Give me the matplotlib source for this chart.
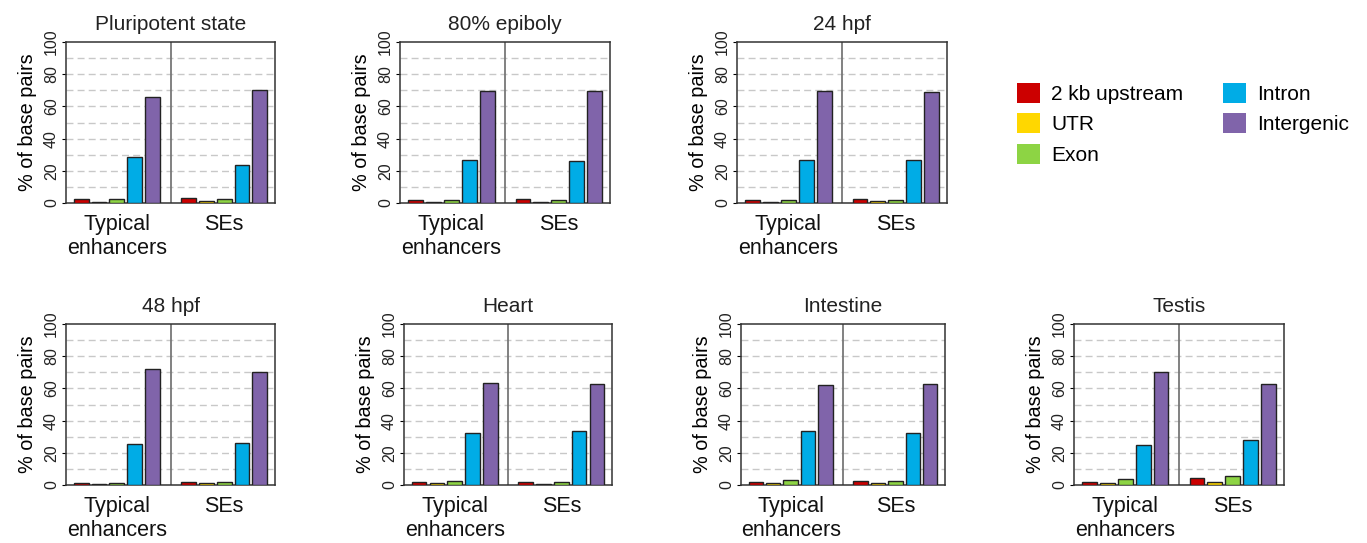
import numpy as np
import matplotlib
matplotlib.use("Agg")
import matplotlib.pyplot as plt
from matplotlib.patches import Patch

plt.rcParams['font.family'] = ['Liberation Sans', 'DejaVu Sans']

regions = ["2 kb upstream", "UTR", "Exon", "Intron", "Intergenic"]
colors = ["#CC0000", "#FFD700", "#8DD444", "#00ACE6", "#8064AA"]
groups = ["Typical\nenhancers", "SEs"]

titles = ["Pluripotent state", "80% epiboly", "24 hpf",
          "48 hpf", "Heart", "Intestine", "Testis"]

# % of base pairs per region, [typical enhancers, SEs]
pluripotent = [[2.7, 0.8, 2.5, 28.7, 66.1], [3.3, 1.0, 2.7, 23.7, 70.3]]
epiboly80 = [[2.1, 0.8, 2.1, 26.4, 69.4], [2.5, 0.8, 2.1, 26.0, 69.4]]
hpf24 = [[2.1, 0.8, 1.7, 26.8, 69.6], [2.5, 1.0, 2.1, 26.8, 68.8]]
hpf48 = [[1.2, 0.6, 1.2, 25.2, 72.3], [2.1, 1.2, 1.9, 26.0, 70.0]]
heart = [[1.9, 1.0, 2.5, 32.2, 63.6], [1.9, 0.8, 1.9, 33.7, 62.6]]
intestine = [[1.9, 1.2, 2.9, 33.3, 62.0], [2.5, 1.2, 2.5, 32.2, 62.6]]
testis = [[2.1, 1.4, 3.7, 24.6, 70.0], [4.5, 2.1, 5.6, 27.7, 63.0]]

data = [pluripotent, epiboly80, hpf24, hpf48, heart, intestine, testis]

W, H = 1367, 543
fig = plt.figure(figsize=(W / 100, H / 100), dpi=100)

# axes boxes in pixels: left, top, right, bottom
boxes = [(66, 42, 275, 203), (400, 42, 610, 203), (737, 42, 947, 203),
         (66, 324, 275, 485), (404, 324, 612, 485), (741, 324, 945, 485),
         (1074, 324, 1284, 485)]

for box, title, vals in zip(boxes, titles, data):
    l, t, r, b = box
    ax = fig.add_axes([l / W, 1 - b / H, (r - l) / W, (b - t) / H])
    for g in range(2):
        xs = np.arange(5) + 6 * g
        ax.bar(xs, vals[g], width=0.83, color=colors,
               edgecolor="#222222", linewidth=1, zorder=3)
    ax.axvline(5, color="#777777", linewidth=1.3, zorder=2)
    for yv in range(10, 100, 10):
        ax.axhline(yv, color="#C8C8C8", linewidth=1, dashes=(5, 3), zorder=1)
    ax.set_xlim(-0.85, 10.85)
    ax.set_ylim(0, 100)
    ax.set_yticks(range(0, 101, 20))
    ax.set_yticklabels([str(v) for v in range(0, 101, 20)], rotation=90,
                       va="center", fontsize=11.5, color="#222222")
    ax.tick_params(axis="y", length=3, pad=2)
    ax.set_xticks([2, 8])
    ax.set_xticklabels(groups, fontsize=15.5, color="#111111", linespacing=1.2)
    ax.tick_params(axis="x", length=0, pad=8)
    ax.set_ylabel("% of base pairs", fontsize=14.3, labelpad=5)
    ax.set_title(title, fontsize=15, color="#222222", pad=9)
    for s in ax.spines.values():
        s.set_color("#333333")
        s.set_linewidth(1.1)

handles = [Patch(facecolor=c, edgecolor="none") for c in colors]
fig.legend(handles, regions, ncol=2, loc="upper left",
           bbox_to_anchor=(998 / W, 1 - 64 / H), frameon=False,
           fontsize=15, handlelength=1.1, handleheight=1.1,
           handletextpad=0.55, columnspacing=1.9, labelspacing=0.45)

fig.savefig("out.png", dpi=100)
